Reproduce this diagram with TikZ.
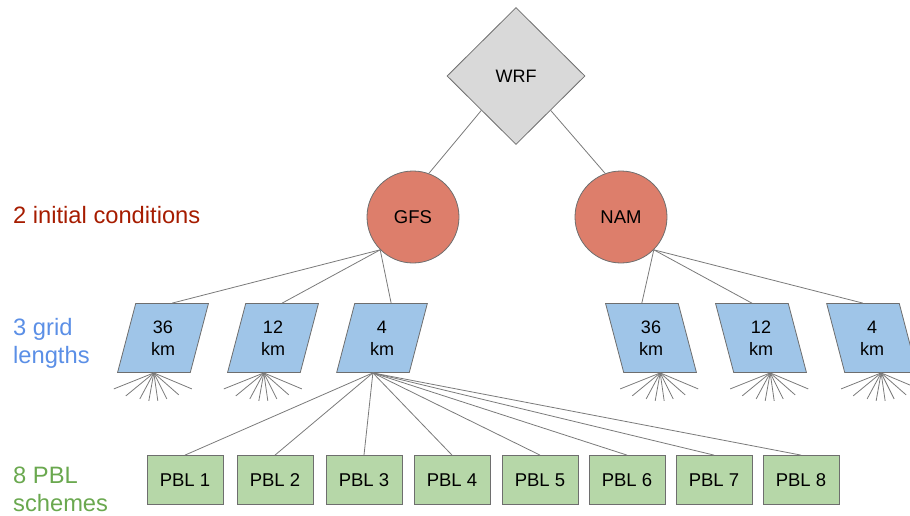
\documentclass[tikz,border=0pt]{standalone}
\usepackage{fontspec}
\setmainfont{Liberation Sans}
\usetikzlibrary{positioning,shapes.geometric}
\definecolor{wrfgray}{HTML}{D9D9D9}
\definecolor{icred}{HTML}{DD7E6B}
\definecolor{gridblue}{HTML}{9FC5E8}
\definecolor{pblgreen}{HTML}{B6D7A8}
\definecolor{edgegray}{HTML}{6E6E6E}
\definecolor{linkgray}{HTML}{7A7A7A}
\definecolor{tierred}{HTML}{A61C00}
\definecolor{tierblue}{HTML}{5B8FE6}
\definecolor{tiergreen}{HTML}{6AA84F}

\tikzset{
  link/.style={draw=linkgray, line width=0.8pt},
  model/.style={diamond, aspect=1, draw=edgegray, line width=0.8pt, fill=wrfgray,
    minimum width=138pt, minimum height=137pt, inner sep=0pt, font=\fontsize{18}{22}\selectfont},
  initc/.style={circle, draw=edgegray, line width=0.8pt, fill=icred,
    minimum size=92pt, inner sep=0pt, font=\fontsize{18.5}{22}\selectfont},
  gridl/.style={trapezium, trapezium left angle=77, trapezium right angle=103,
    trapezium stretches=true, draw=edgegray, line width=0.8pt, fill=gridblue,
    minimum width=91pt, minimum height=69pt, inner sep=0pt, align=center,
    font=\fontsize{18}{22}\selectfont},
  gridr/.style={gridl, trapezium left angle=103, trapezium right angle=77},
  pbl/.style={rectangle, draw=edgegray, line width=0.8pt, fill=pblgreen,
    minimum width=76pt, minimum height=49pt, inner sep=0pt, font=\fontsize{18.5}{22}\selectfont},
  tier/.style={anchor=base west, inner sep=0pt, align=left, font=\fontsize{23.7}{28}\selectfont}
}

\begin{document}
\begin{tikzpicture}[x=1pt, y=-1pt]
  \useasboundingbox (0,0) rectangle (910,515);

  \node[model] (WRF) at (516,76) {WRF};
  \node[initc, on grid, below left=141pt and 103pt of WRF] (GFS) {GFS};
  \node[initc, on grid, right=208pt of GFS] (NAM) {NAM};

  \node[gridl, on grid, below left=121pt and 250pt of GFS] (G36) {36\\km};
  \node[gridl, on grid, right=110pt of G36] (G12) {12\\km};
  \node[gridl, on grid, right=109pt of G12] (G4) {4\\km};
  \node[gridr, on grid, below right=121pt and 30pt of NAM] (N36) {36\\km};
  \node[gridr, on grid, right=110pt of N36] (N12) {12\\km};
  \node[gridr, on grid, right=111pt of N12] (N4) {4\\km};

  \foreach \x [count=\i] in {185,275,364,452,540,627,714,801}
    \node[pbl] (PBL\i) at (\x,480) {PBL \i};

  % base anchor sits on the last line
  \node[tier, text=tierred] (TierIC) at (13,223) {2 initial conditions};
  \node[tier, text=tierblue] (TierGrid) at (13,363) {3 grid\\lengths};
  \node[tier, text=tiergreen] (TierPBL) at (13,511) {8 PBL\\schemes};

  \draw[link] (WRF.south west) -- (GFS.70);
  \draw[link] (WRF.south east) -- (NAM.110);
  \foreach \g in {G36,G12,G4}
    \draw[link] (GFS.south west) -- (\g.top side);
  \foreach \g in {N36,N12,N4}
    \draw[link] (NAM.south east) -- (\g.top side);
  \foreach \i in {1,...,8}
    \draw[link] (G4.bottom side) -- (PBL\i.north);

  % stubs for the schemes that are not spelled out
  \foreach \g in {G36,G12,N36,N12,N4}
    \foreach \dx/\dy [count=\k] in {-40/16,-28/23,-14/26,-5/28,4/28,13/26,25/22,38/16} {
      \coordinate (\g-\k) at ([shift={(\dx,\dy)}]\g.bottom side);
      \draw[link] (\g.bottom side) -- (\g-\k);
    }
\end{tikzpicture}
\end{document}
